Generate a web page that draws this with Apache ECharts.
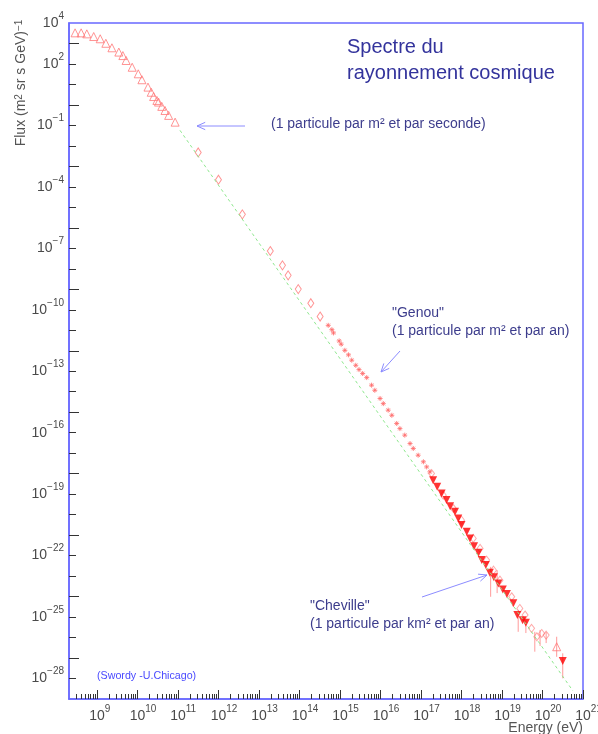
<!DOCTYPE html>
<html><head><meta charset="utf-8">
<script src="https://cdn.jsdelivr.net/npm/echarts@6/dist/echarts.min.js"></script>
<style>html,body{margin:0;padding:0;background:#fff}#c{width:598px;height:734px}</style>
</head><body><div id="c"></div>
<script>
// All values are log10 exponents: E = log10(Energy / eV), F = log10(Flux)
const triE = [8.46,8.61,8.75,8.92,9.08,9.22,9.37,9.54,9.64,9.72,9.87,10.02,10.11,10.26,10.34,10.40,10.48,10.52,10.60,10.68,10.77,10.93];
const triF = [3.52,3.52,3.47,3.34,3.23,3.01,2.79,2.58,2.41,2.17,1.84,1.52,1.23,0.87,0.62,0.41,0.22,0.14,-0.07,-0.27,-0.51,-0.84];

const diaE = [11.50,12.00,12.59,13.28,13.58,13.72,13.97,14.28,14.51];
const diaF = [-2.32,-3.65,-5.34,-7.13,-7.83,-8.32,-8.99,-9.68,-10.33];

const starE = [14.71,14.80,14.84,14.98,15.03,15.12,15.21,15.29,15.39,15.47,15.56,15.66,15.78,15.86,15.99,16.07,16.19,16.28,16.40,16.48,16.60,16.73,16.81,16.93,17.06,17.14,17.22];
const starF = [-10.76,-10.97,-11.13,-11.52,-11.68,-11.98,-12.20,-12.46,-12.71,-12.92,-13.11,-13.31,-13.68,-13.93,-14.33,-14.58,-14.90,-15.15,-15.55,-15.80,-16.12,-16.53,-16.77,-17.10,-17.42,-17.67,-17.91];

const filledE = [17.30,17.40,17.51,17.63,17.72,17.84,17.92,18.00,18.13,18.21,18.31,18.42,18.50,18.60,18.70,18.80,18.91,19.02,19.12,19.28,19.38,19.51,19.59,20.50];
const filledF = [-18.32,-18.64,-18.97,-19.29,-19.59,-19.86,-20.19,-20.51,-20.84,-21.16,-21.54,-21.86,-22.22,-22.46,-22.84,-23.06,-23.36,-23.65,-23.88,-24.33,-24.90,-25.15,-25.28,-27.15];

const openE = [17.26,17.55,17.80,18.00,18.29,18.46,18.62,18.79,18.95,19.24,19.44,19.57,19.73,19.86,19.98,20.09];
const openF = [-17.99,-19.05,-19.70,-20.27,-21.16,-21.65,-22.22,-22.71,-23.20,-24.01,-24.58,-24.90,-25.55,-25.96,-25.80,-25.88];

const upE = [20.35];
const upF = [-26.45];

const errE  = [18.72,18.88,19.40,19.59,19.81,19.94,20.09,20.35,20.50];
const errLo = [-24.01,-23.83,-25.72,-25.78,-26.69,-26.41,-26.27,-26.94,-27.99];
const errHi = [-22.55,-22.71,-24.66,-25.15,-25.72,-25.63,-25.73,-25.96,-26.77];

const fitE = [11.05,20.75];
const fitF = [-1.24,-28.6];

const xMin = 8.31, xMax = 21, yMin = -29, yMax = 4;
const xMajorTicks = [9,10,11,12,13,14,15,16,17,18,19,20,21];
const xTickLabels = [9,10,11,12,13,14,15,16,17,18,19,20,21];
const yLongTicks = [-27,-24,-21,-18,-15,-12,-9,-6,-3,0,3];
const yDecadeTicks = [-28,-26,-25,-23,-22,-20,-19,-17,-16,-14,-13,-11,-10,-8,-7,-5,-4,-2,-1,1,2];
const yTickLabels = [4,2,-1,-4,-7,-10,-13,-16,-19,-22,-25,-28];

function minorLog(min, max) {
  const out = [];
  for (let n = Math.floor(min); n < Math.ceil(max); n++)
    for (let k = 2; k <= 9; k++) { const v = n + Math.log10(k); if (v > min && v < max) out.push(v); }
  return out;
}
const pairs = (a, b) => a.map((v, i) => [v, b[i]]);
const FONT = 'Liberation Sans, Arial, Helvetica, sans-serif';
const sup = v => { const n = Math.round(v); return n < 0 ? '\u2212' + (-n) : '' + n; };
const LBL = '#4a4a4a';
const rich = {
  b: { fontSize: 14, lineHeight: 24, verticalAlign: 'middle', color: LBL, fontFamily: FONT },
  s: { fontSize: 10, lineHeight: 10, verticalAlign: 'top', color: LBL, fontFamily: FONT },
  p: { fontSize: 10, lineHeight: 10, verticalAlign: 'top', color: 'rgba(0,0,0,0)', fontFamily: FONT }
};
const AX = '#6868ff';

function arrow(x1, y1, x2, y2) {
  const dx = x2 - x1, dy = y2 - y1, L = Math.hypot(dx, dy), ux = dx / L, uy = dy / L;
  const hl = 9, a = 0.42;
  const c = Math.cos(a), s = Math.sin(a);
  const w1 = [x2 - hl * (ux * c - uy * s), y2 - hl * (uy * c + ux * s)];
  const w2 = [x2 - hl * (ux * c + uy * s), y2 - hl * (uy * c - ux * s)];
  return [
    { type: 'line', shape: { x1, y1, x2, y2 }, style: { stroke: '#8c8cff', lineWidth: 1 } },
    { type: 'polyline', shape: { points: [w1, [x2, y2], w2] }, style: { stroke: '#8c8cff', lineWidth: 1, fill: null } }
  ];
}
function txt(x, y, text, size, color, extra) {
  return Object.assign({ type: 'text', x, y, style: { text, fontSize: size, fill: color, fontFamily: FONT, verticalAlign: 'middle', align: 'left' } }, extra || {});
}

const chart = echarts.init(document.getElementById('c'), null, { renderer: 'canvas' });
chart.setOption({
  animation: false,
  backgroundColor: '#fff',
  grid: { left: 69, top: 23, right: 15, bottom: 35, show: true, borderColor: AX, borderWidth: 1.5, backgroundColor: 'transparent', containLabel: false, outerBoundsMode: 'none' },
  xAxis: [
    { type: 'value', min: xMin, max: xMax, position: 'bottom',
      axisLine: { show: true, onZero: false, lineStyle: { color: AX, width: 1.5 } },
      axisTick: { show: true, inside: true, length: 9, customValues: xMajorTicks, lineStyle: { color: '#333', width: 1 } },
      axisLabel: { show: true, customValues: xTickLabels, margin: 5, formatter: v => `{p|${sup(v)}}{b|10}{s|${sup(v)}}`, rich },
      splitLine: { show: false } },
    { type: 'value', min: xMin, max: xMax, position: 'bottom',
      axisLine: { show: false, onZero: false },
      axisTick: { show: true, inside: true, length: 5, customValues: minorLog(xMin, xMax), lineStyle: { color: '#333', width: 1 } },
      axisLabel: { show: false }, splitLine: { show: false } }
  ],
  yAxis: [
    { type: 'value', min: yMin, max: yMax, position: 'left',
      axisLine: { show: true, onZero: false, lineStyle: { color: AX, width: 1.5 } },
      axisTick: { show: true, inside: true, length: 10, customValues: yLongTicks, lineStyle: { color: '#333', width: 1 } },
      axisLabel: { show: true, customValues: yTickLabels, margin: 5, formatter: v => `{b|10}{s|${sup(v)}}`, rich },
      splitLine: { show: false } },
    { type: 'value', min: yMin, max: yMax, position: 'left',
      axisLine: { show: false, onZero: false },
      axisTick: { show: true, inside: true, length: 7, customValues: yDecadeTicks, lineStyle: { color: '#333', width: 1 } },
      axisLabel: { show: false }, splitLine: { show: false } }
  ],
  series: [
    { type: 'line', data: pairs(fitE, fitF), symbol: 'none', silent: true,
      lineStyle: { color: '#8ee88e', width: 1, type: [3, 3] } },
    { type: 'custom', data: errE.map((e, i) => [e, errLo[i], errHi[i]]), silent: true,
      renderItem: (params, api) => {
        const p1 = api.coord([api.value(0), api.value(1)]), p2 = api.coord([api.value(0), api.value(2)]);
        return { type: 'line', shape: { x1: p1[0], y1: p1[1], x2: p2[0], y2: p2[1] }, style: { stroke: 'rgba(255,110,110,0.7)', lineWidth: 1 } };
      } },
    { type: 'scatter', data: pairs(triE, triF), symbol: 'triangle', symbolSize: 8,
      itemStyle: { color: 'rgba(255,255,255,0)', borderColor: '#ff7878', borderWidth: 1 } },
    { type: 'scatter', data: pairs(diaE, diaF), symbol: 'diamond', symbolSize: [6, 9],
      itemStyle: { color: 'rgba(255,255,255,0)', borderColor: '#ff7878', borderWidth: 1 } },
    { type: 'scatter', data: pairs(starE, starF), symbol: 'path://M0,5L10,5M5,0L5,10M1.5,1.5L8.5,8.5M8.5,1.5L1.5,8.5', symbolSize: 5,
      itemStyle: { color: 'rgba(255,255,255,0)', borderColor: '#ff6a6a', borderWidth: 1 } },
    { type: 'scatter', data: pairs(openE, openF), symbol: 'diamond', symbolSize: [6, 8],
      itemStyle: { color: 'rgba(255,255,255,0)', borderColor: 'rgba(255,110,110,0.75)', borderWidth: 1 } },
    { type: 'scatter', data: pairs(upE, upF), symbol: 'triangle', symbolSize: 8,
      itemStyle: { color: 'rgba(255,255,255,0)', borderColor: '#ff7878', borderWidth: 1 } },
    { type: 'scatter', data: pairs(filledE, filledF), symbol: 'triangle', symbolRotate: 180, symbolSize: 8,
      itemStyle: { color: '#ff0000' } }
  ],
  graphic: [
    txt(347, 47, 'Spectre du', 20, '#33339c'),
    txt(347, 73, 'rayonnement cosmique', 20, '#33339c'),
    txt(271, 124, '(1 particule par m\u00b2 et par seconde)', 14, '#3c3c8c'),
    txt(392, 313, '"Genou"', 14, '#3c3c8c'),
    txt(392, 331, '(1 particule par m\u00b2 et par an)', 14, '#3c3c8c'),
    txt(310, 606, '"Cheville"', 14, '#3c3c8c'),
    txt(310, 624, '(1 particule par km\u00b2 et par an)', 14, '#3c3c8c'),
    txt(97, 676, '(Swordy -U.Chicago)', 10.7, '#4a4aff'),
    { type: 'text', x: 21, y: 83, rotation: Math.PI / 2,
      style: { text: 'Flux (m{s|2} sr s GeV){s|\u22121}', fontSize: 14, fill: '#555', fontFamily: FONT, align: 'center', verticalAlign: 'middle',
        rich: { s: { fontSize: 10, lineHeight: 10, verticalAlign: 'top', fill: '#555', fontFamily: FONT } } } },
    { type: 'text', x: 583, y: 728, style: { text: 'Energy (eV)', fontSize: 14, fill: '#555', fontFamily: FONT, align: 'right', verticalAlign: 'middle' } },
    ...arrow(245, 126, 197, 126),
    ...arrow(400, 351, 381, 372),
    ...arrow(422, 597, 487, 575)
  ]
});
</script></body></html>
